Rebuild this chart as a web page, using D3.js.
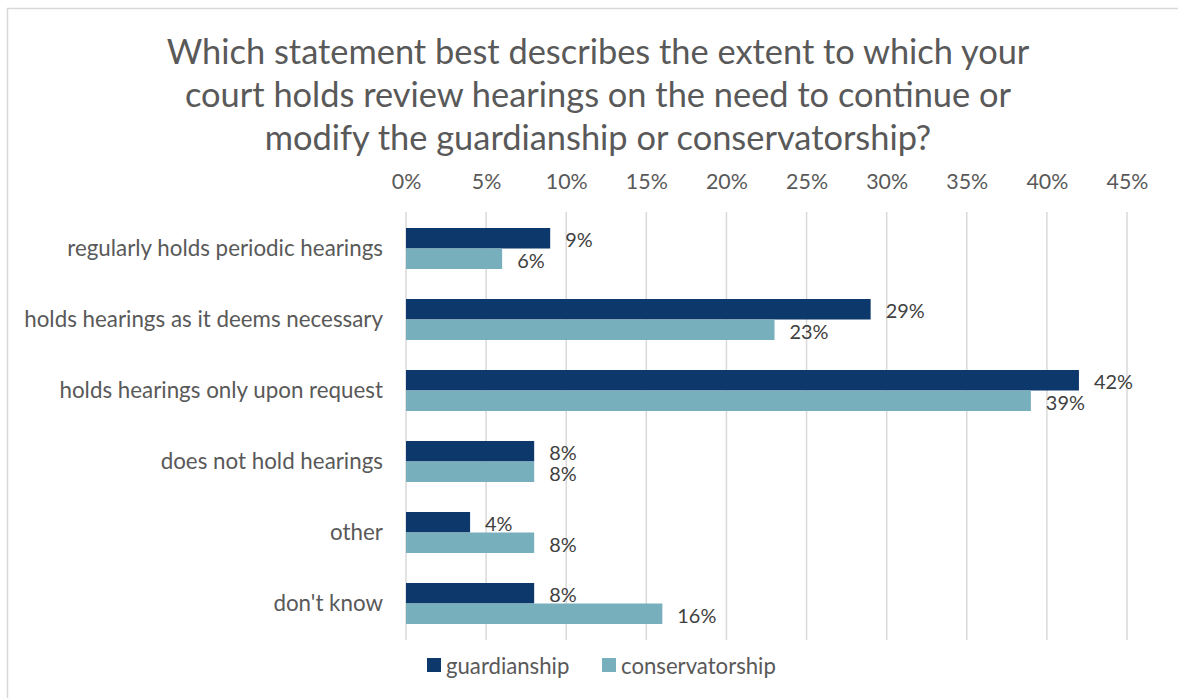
<!DOCTYPE html>
<html>
<head>
<meta charset="utf-8">
<script src="https://cdn.jsdelivr.net/npm/d3@7"></script>
<style>
  html, body { margin: 0; padding: 0; background: #fff; }
  svg { display: block; }
  text { font-family: Lato, "Open Sans", sans-serif; }
</style>
</head>
<body>
<svg id="chart" width="1178" height="698"></svg>
<script>
// Survey responses (percent of respondents)
const categories = [
  "regularly holds periodic hearings",
  "holds hearings as it deems necessary",
  "holds hearings only upon request",
  "does not hold hearings",
  "other",
  "don't know"
];
const seriesNames = ["guardianship", "conservatorship"];
const guardianship = [9, 29, 42, 8, 4, 8];
const conservatorship = [6, 23, 39, 8, 8, 16];
const tickValues = [0, 5, 10, 15, 20, 25, 30, 35, 40, 45];
const titleLines = [
  "Which statement best describes the extent to which your",
  "court holds review hearings on the need to continue or",
  "modify the guardianship or conservatorship?"
];

const colors = { guardianship: "#0C386B", conservatorship: "#78AFBC" };
const W = 1178, H = 698;
const svg = d3.select("#chart");

// Font-size that makes a sample string span a given width
function fitSize(sample, width, base = 20) {
  const t = svg.append("text").attr("font-size", base).text(sample);
  const w = t.node().getComputedTextLength();
  t.remove();
  return base * width / w;
}
const titleSize = fitSize(titleLines[0], 863);
const catSize = fitSize(categories[1], 359);
const tickSize = fitSize("45%", 42);
const valueSize = fitSize("16%", 39);
const legendSize = fitSize("conservatorship", 155);

// Frame of the chart area
svg.append("path")
  .attr("d", `M7.5,${H + 2} V8.5 H${W + 2}`)
  .attr("fill", "none")
  .attr("stroke", "#D9D9D9")
  .attr("stroke-width", 1.5);

// Title
svg.append("g").selectAll("text")
  .data(titleLines)
  .join("text")
  .attr("x", 598)
  .attr("y", (d, i) => 64 + i * 43)
  .attr("text-anchor", "middle")
  .attr("font-size", titleSize)
  .attr("fill", "#595959")
  .text(d => d);

// Scales
const x = d3.scaleLinear().domain([0, 45]).range([406, 1127]);
const y = d3.scaleBand().domain(categories).range([213, 639]).padding(0);
const ySub = d3.scaleBand().domain(seriesNames).range([15, y.bandwidth() - 15]).padding(0);

// Gridlines
svg.append("g").selectAll("line")
  .data(tickValues)
  .join("line")
  .attr("x1", d => x(d)).attr("x2", d => x(d))
  .attr("y1", 212).attr("y2", 640)
  .attr("stroke", "#D9D9D9")
  .attr("stroke-width", 1.5);

// Top axis labels
const xAxis = d3.axisTop(x)
  .tickValues(tickValues)
  .tickFormat(d => d + "%")
  .tickSize(0)
  .tickPadding(0);
const gx = svg.append("g")
  .attr("transform", "translate(0,189)")
  .call(xAxis);
gx.select(".domain").remove();
gx.selectAll("text")
  .attr("font-family", "Lato, sans-serif")
  .attr("font-size", tickSize)
  .attr("fill", "#595959")
  .attr("dy", 0);

// Category axis labels
const yAxis = d3.axisLeft(y).tickSize(0).tickPadding(0);
const gy = svg.append("g")
  .attr("transform", "translate(383,0)")
  .call(yAxis);
gy.select(".domain").remove();
gy.selectAll("text")
  .attr("font-family", "Lato, sans-serif")
  .attr("font-size", catSize)
  .attr("fill", "#595959");

// Bars and value labels
const rows = categories.map((c, i) => ({
  category: c,
  values: [
    { series: "guardianship", value: guardianship[i] },
    { series: "conservatorship", value: conservatorship[i] }
  ]
}));

const groups = svg.append("g").selectAll("g")
  .data(rows)
  .join("g")
  .attr("transform", d => `translate(0,${y(d.category)})`);

groups.selectAll("rect")
  .data(d => d.values)
  .join("rect")
  .attr("x", x(0))
  .attr("y", d => ySub(d.series))
  .attr("width", d => x(d.value) - x(0))
  .attr("height", ySub.bandwidth())
  .attr("fill", d => colors[d.series]);

groups.selectAll("text")
  .data(d => d.values)
  .join("text")
  .attr("x", d => x(d.value) + 15)
  .attr("y", d => ySub(d.series) + ySub.bandwidth() / 2 + 1)
  .attr("dominant-baseline", "central")
  .attr("font-size", valueSize)
  .attr("fill", "#404040")
  .text(d => d.value + "%");

// Legend
const legendItems = [
  { name: "guardianship", x: 427 },
  { name: "conservatorship", x: 602 }
];
const legend = svg.append("g").selectAll("g")
  .data(legendItems)
  .join("g")
  .attr("transform", d => `translate(${d.x},658)`);
legend.append("rect")
  .attr("width", 14).attr("height", 14)
  .attr("fill", d => colors[d.name]);
legend.append("text")
  .attr("x", 19)
  .attr("y", 7)
  .attr("dominant-baseline", "central")
  .attr("font-size", legendSize)
  .attr("fill", "#595959")
  .text(d => d.name);
</script>
</body>
</html>
